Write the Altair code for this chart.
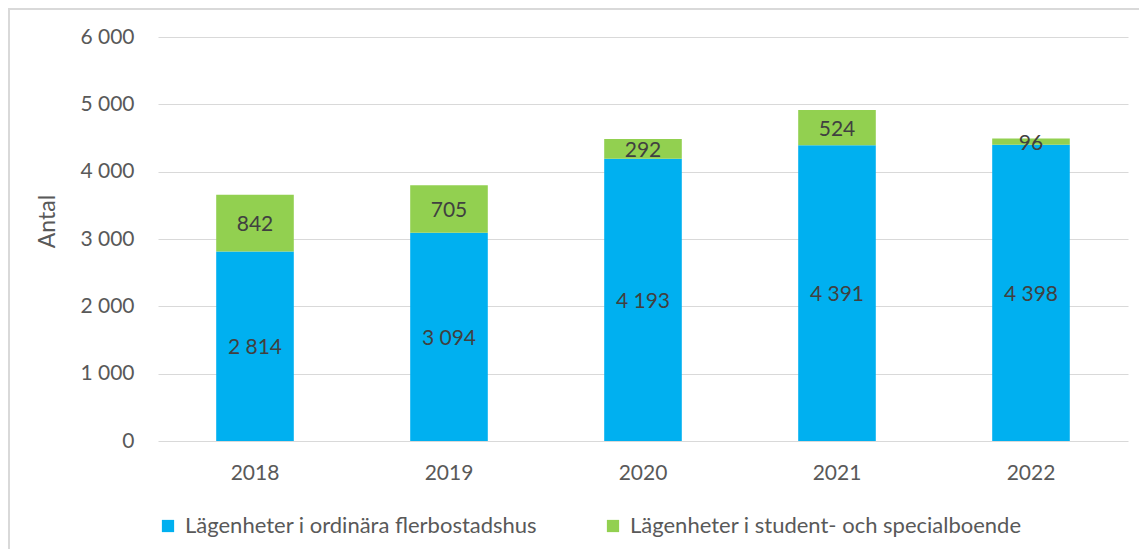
import altair as alt
import pandas as pd

years = ["2018", "2019", "2020", "2021", "2022"]
ordinary = [2814, 3094, 4193, 4391, 4398]
special = [842, 705, 292, 524, 96]
series_names = ["Lägenheter i ordinära flerbostadshus", "Lägenheter i student- och specialboende"]
colors = ["#00B0F0", "#92D050"]
y_ticks = [0, 1000, 2000, 3000, 4000, 5000, 6000]

rows = []
for i, yr in enumerate(years):
    rows.append({"year": yr, "series": series_names[0], "value": ordinary[i], "ord": 0})
    rows.append({"year": yr, "series": series_names[1], "value": special[i], "ord": 1})
df = pd.DataFrame(rows)

FONT = "Lato"

base = alt.Chart(df).transform_stack(
    stack="value", groupby=["year"], as_=["v0", "v1"], sort=[alt.SortField("ord")]
).transform_calculate(
    mid="(datum.v0 + datum.v1) / 2",
    label="replace(format(datum.value, ','), ',', ' ')",
)

x_enc = alt.X("year:N", title=None, scale=alt.Scale(paddingInner=0.6, paddingOuter=0.3),
              axis=alt.Axis(labelAngle=0, labelPadding=21, domain=False, ticks=False))
y_scale = alt.Scale(domain=[0, 6000], nice=False)

bars = base.mark_bar().encode(
    x=x_enc,
    y=alt.Y("v0:Q", scale=y_scale, title="Antal",
            axis=alt.Axis(values=y_ticks, labelExpr="replace(format(datum.value, ','), ',', ' ')",
                          domain=False, ticks=False, labelPadding=24, titlePadding=20,
                          titleY=184, titleFontSize=23)),
    y2="v1:Q",
    color=alt.Color("series:N", scale=alt.Scale(domain=series_names, range=colors),
                    legend=alt.Legend(orient="none", legendX=-1, legendY=478, direction="horizontal",
                                      title=None, symbolType="square", symbolSize=150,
                                      symbolStrokeWidth=0, labelFontSize=22, labelFont=FONT,
                                      labelColor="#595959", columnPadding=64, labelOffset=6,
                                      labelLimit=0)),
    order=alt.Order("ord:Q"),
)

labels = base.mark_text(font=FONT, fontSize=21, color="#404040", dy=2).encode(
    x=alt.X("year:N"),
    y=alt.Y("mid:Q", scale=y_scale),
    text="label:N",
)

border = alt.Chart(alt.Data(values=[{}])).mark_rect(
    filled=False, stroke="#d9d9d9", strokeWidth=2
).encode(x=alt.value(-149), x2=alt.value(1300), y=alt.value(-28), y2=alt.value(700))

chart = alt.layer(border, bars, labels).properties(
    width=970, height=404,
    autosize=alt.AutoSizeParams(type="none"),
    padding={"left": 150, "top": 29, "right": 11, "bottom": 108},
).configure_axis(
    labelFont=FONT, labelFontSize=21, labelColor="#595959",
    titleFont=FONT, titleFontSize=21, titleFontWeight="normal", titleColor="#595959",
    gridColor="#d9d9d9", gridWidth=1,
).configure_axisX(grid=False).configure_view(stroke=None)

chart.save("out.html", embed_options={"renderer": "svg", "actions": False})
